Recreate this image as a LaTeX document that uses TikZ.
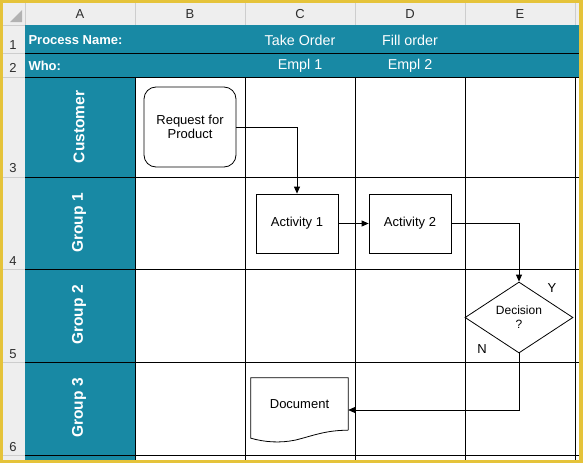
\documentclass[tikz,border=0pt]{standalone}
\usepackage{fontspec}
\setmainfont{Liberation Sans}
\usetikzlibrary{shapes,positioning,calc,arrows.meta}
\definecolor{laneteal}{RGB}{24,137,164}
\definecolor{frameyellow}{RGB}{229,195,58}
\definecolor{headgrey}{RGB}{238,238,238}
\definecolor{headline}{RGB}{205,205,205}
\definecolor{headtext}{RGB}{45,45,45}

\tikzset{
    colhead/.style={text=headtext,font=\fontsize{13}{15}\selectfont},
    rownum/.style={text=headtext,font=\fontsize{13}{15}\selectfont},
    infolabel/.style={text=white,anchor=west,font=\bfseries\fontsize{13}{15}\selectfont},
    infotext/.style={text=white,font=\fontsize{14.3}{16}\selectfont},
    lanelabel/.style={text=white,rotate=90,font=\bfseries\fontsize{15.5}{17}\selectfont},
    startbox/.style={draw,line width=0.8pt,rounded corners=12pt,minimum width=92pt,
        minimum height=80pt,align=center,font=\fontsize{13}{14}\selectfont},
    activitybox/.style={draw,line width=0.8pt,minimum width=82pt,minimum height=59pt,
        font=\fontsize{13}{14}\selectfont},
    decisionbox/.style={draw,line width=0.8pt,diamond,aspect=1.52,inner sep=0pt,
        minimum width=108pt,minimum height=71pt,align=center,font=\fontsize{12}{14}\selectfont},
    docbox/.style={inner sep=0pt,minimum width=97pt,minimum height=52pt,
        font=\fontsize{13}{14}\selectfont},
    answer/.style={font=\fontsize{13}{15}\selectfont},
    flow/.style={line width=0.8pt,-{Triangle[length=7pt,width=6pt]}}
}

\begin{document}
\begin{tikzpicture}[x=1pt,y=-1pt]
    \useasboundingbox (0,0) rectangle (583,463);

    % sheet frame and headers
    \fill[frameyellow] (0,0) rectangle (583,463);
    \fill[white] (3,3) rectangle (579,460);
    \fill[headgrey] (3,3) rectangle (579,25);
    \fill[headgrey] (3,25) rectangle (25,460);
    \fill[black!30] (22,10) -- (22,22) -- (10,22) -- cycle;
    \draw[headline]
        (25,3) -- (25,25) (135,3) -- (135,25) (245,3) -- (245,25)
        (355,3) -- (355,25) (465,3) -- (465,25) (575,3) -- (575,25)
        (3,25) -- (579,25)
        (3,53) -- (25,53) (3,77) -- (25,77) (3,177) -- (25,177)
        (3,269) -- (25,269) (3,362) -- (25,362) (3,455) -- (25,455);

    \node[colhead] (colA) at (80,14) {A};
    \node[colhead] (colB) at (190,14) {B};
    \node[colhead] (colC) at (300,14) {C};
    \node[colhead] (colD) at (410,14) {D};
    \node[colhead] (colE) at (520,14) {E};

    \node[rownum] (row1) at (13,45) {1};
    \node[rownum] (row2) at (13,68) {2};
    \node[rownum] (row3) at (13,168) {3};
    \node[rownum] (row4) at (13,261) {4};
    \node[rownum] (row5) at (13,354) {5};
    \node[rownum] (row6) at (13,447) {6};

    % teal cells
    \fill[laneteal] (25,25) rectangle (579,77);
    \fill[laneteal] (25,77) rectangle (135,460);

    % grid
    \draw[line width=0.8pt]
        (25,53) -- (579,53) (25,77) -- (579,77)
        (25,177) -- (579,177) (25,269) -- (579,269)
        (25,362) -- (579,362) (25,455) -- (579,455)
        (135,77) -- (135,460) (245,77) -- (245,460)
        (355,77) -- (355,460) (465,77) -- (465,460)
        (575,77) -- (575,460);

    % process rows
    \node[infolabel] (procname) at (25,40) {Process Name:};
    \node[infolabel] (who) at (25,66) {Who:};
    \node[infotext] (takeorder) at (300,40) {Take Order};
    \node[infotext] (fillorder) at (410,40) {Fill order};
    \node[infotext] (emplone) at (300,66) {Empl 1};
    \node[infotext] (empltwo) at (410,66) {Empl 2};

    % lanes
    \node[lanelabel] (customer) at (79,127) {Customer};
    \node[lanelabel] (groupone) at (79,223) {Group 1};
    \node[lanelabel] (grouptwo) at (79,315) {Group 2};
    \node[lanelabel] (groupthree) at (79,408) {Group 3};

    % flow
    \node[startbox] (request) at (190,127) {Request for\\Product};
    \node[activitybox] (actone) at (297,223.5) {Activity 1};
    \node[activitybox] (acttwo) at (410,223.5) {Activity 2};
    \node[decisionbox] (decision) at (519,317.5) {Decision\\?};
    \node[answer] (yes) at (552,288) {Y};
    \node[answer] (no) at (482,349) {N};
    \node[docbox] (document) at (299.5,404) {Document};
    \draw[line width=0.8pt]
        (document.south east) -- (document.north east) -- (document.north west)
        -- ($(document.south west)+(0,8)$)
        .. controls ($(document.south west)+(14,12)$) and ($(document.south west)+(29,13)$)
        .. ($(document.south west)+(44,10)$)
        .. controls ($(document.south west)+(61,6)$) and ($(document.south west)+(74,0)$)
        .. (document.south east);

    \draw[flow] (request.east) -| (actone.north);
    \draw[flow] (actone.east) -- (acttwo.west);
    \draw[flow] (acttwo.east) -| (decision.north);
    \draw[flow] (decision.south) |- ($(document.east)+(0,6)$);
\end{tikzpicture}
\end{document}
